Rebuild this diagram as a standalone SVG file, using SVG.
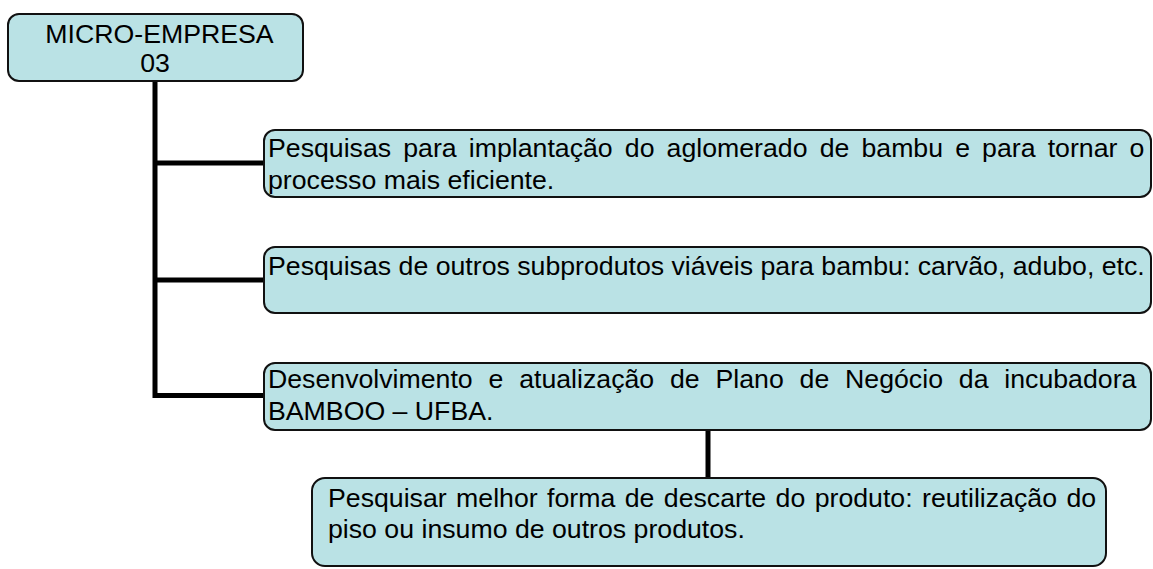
<svg xmlns="http://www.w3.org/2000/svg" width="1153" height="569" viewBox="0 0 1153 569">
<style>
.box{fill:#bae2e5;stroke:#111;stroke-width:2}
.t{font-family:"Liberation Sans",Arial,sans-serif;font-size:26.7px;fill:#000}
.c{fill:none;stroke:#000;stroke-width:5}
</style>
<rect width="1153" height="569" fill="#fff"/>
<g id="connectors">
<line class="c" x1="155" y1="81" x2="155" y2="398"/>
<line class="c" x1="155" y1="163" x2="264" y2="163"/>
<line class="c" x1="155" y1="280" x2="264" y2="280"/>
<line class="c" x1="155" y1="395.5" x2="264" y2="395.5"/>
<line class="c" x1="708" y1="430" x2="708" y2="478"/>
</g>
<g id="n0">
<rect class="box" x="8" y="14" width="295" height="67" rx="11"/>
<text class="t" x="159.5" y="43" text-anchor="middle">MICRO-EMPRESA</text>
<text class="t" x="155" y="72" text-anchor="middle">03</text>
</g>
<g id="n1">
<rect class="box" x="264" y="130" width="887" height="67" rx="11"/>
<text class="t" x="268" y="157" style="word-spacing:4.7px">Pesquisas para implantação do aglomerado de bambu e para tornar o</text>
<text class="t" x="268" y="189">processo mais eficiente.</text>
</g>
<g id="n2">
<rect class="box" x="264" y="247" width="887" height="66" rx="11"/>
<text class="t" x="268" y="275">Pesquisas de outros subprodutos viáveis para bambu: carvão, adubo, etc.</text>
</g>
<g id="n3">
<rect class="box" x="264" y="363" width="887" height="67" rx="11"/>
<text class="t" x="268" y="388" style="word-spacing:8.4px">Desenvolvimento e atualização de Plano de Negócio da incubadora</text>
<text class="t" x="268" y="420">BAMBOO – UFBA.</text>
</g>
<g id="n4">
<rect class="box" x="312" y="478" width="794" height="88" rx="13"/>
<text class="t" x="328" y="507" style="word-spacing:2px">Pesquisar melhor forma de descarte do produto: reutilização do</text>
<text class="t" x="328" y="538">piso ou insumo de outros produtos.</text>
</g>
</svg>
